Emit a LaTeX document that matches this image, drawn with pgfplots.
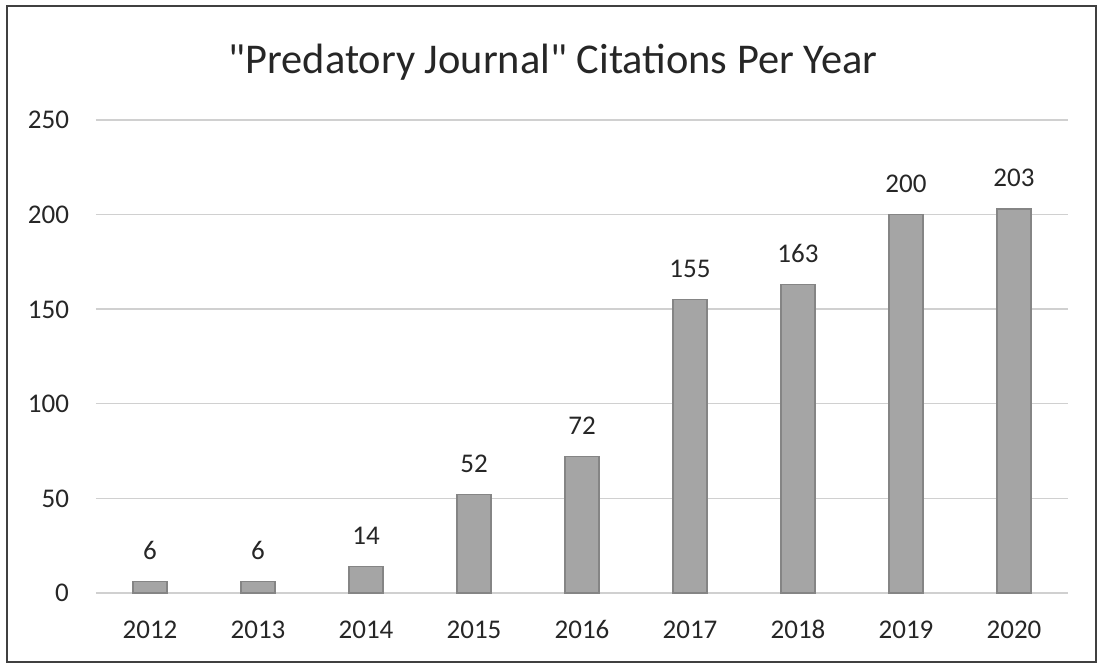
\documentclass[border=0pt]{standalone}
\usepackage{fontspec}
\setmainfont{Carlito}
\usepackage{pgfplots}
\pgfplotsset{compat=1.18}
\definecolor{barfill}{HTML}{A5A5A5}
\definecolor{barline}{HTML}{858585}
\definecolor{gridc}{HTML}{D0D0D0}
\definecolor{txt}{HTML}{262626}
\begin{document}
\begin{tikzpicture}
\useasboundingbox (-48pt,-35.5pt) rectangle (500.5pt,296.5pt);
\begin{axis}[
  at={(0pt,0pt)}, anchor=south west,
  scale only axis,
  width=486pt, height=236.5pt,
  xmin=-0.5, xmax=8.5, ymin=0, ymax=250,
  xtick={0,...,8},
  xticklabels={2012,2013,2014,2015,2016,2017,2018,2019,2020},
  ytick={0,50,100,150,200,250},
  ymajorgrids, grid style={gridc, line width=0.7pt},
  axis line style={draw=none},
  axis x line*=bottom,
  x axis line style={draw=gridc, line width=0.7pt},
  major tick length=0pt,
  tick label style={font=\fontsize{13.5}{15}\selectfont, text=txt},
  xticklabel style={anchor=base, yshift=-22.5pt},
  yticklabel style={anchor=base east, xshift=-10pt, yshift=-4.5pt},
  /pgf/number format/assume math mode=true,
  nodes near coords,
  nodes near coords style={font=\fontsize{13.5}{15}\selectfont, text=txt, anchor=base, yshift=11pt},
  clip=false,
]
\addplot[ybar, bar width=17pt, fill=barfill, draw=barline, line width=0.6pt]
coordinates {(0,6) (1,6) (2,14) (3,52) (4,72) (5,155) (6,163) (7,200) (8,203)};
\end{axis}
\node[text=txt, font=\fontsize{21.2}{26}\selectfont] at (228.5pt,265.5pt) {\textquotedbl Predatory Journal\textquotedbl{} Citations Per Year};
\draw[line width=0.8pt, draw=black!75] (-44.5pt,-34.5pt) rectangle (500pt,293.5pt);
\end{tikzpicture}
\end{document}
